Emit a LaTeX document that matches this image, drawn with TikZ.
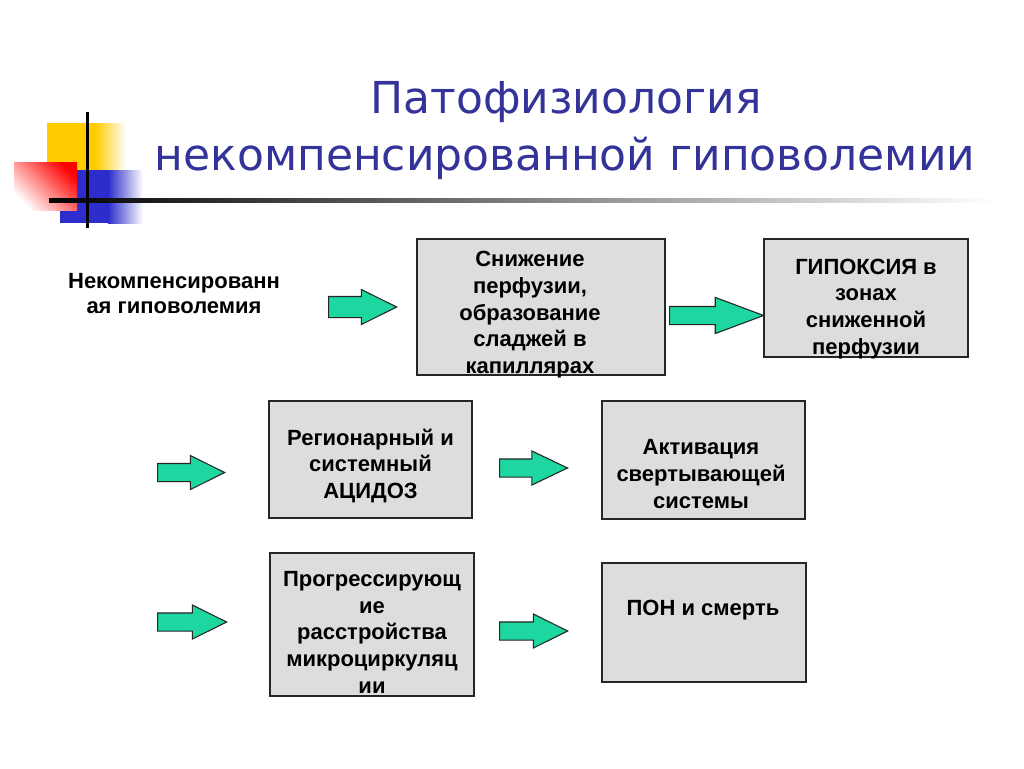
\documentclass[tikz,border=0pt]{standalone}
\usepackage{fontspec}
\setmainfont{Liberation Sans}
\newfontfamily\titlefont{DejaVu Sans}
\usetikzlibrary{shapes.arrows,calc}
\definecolor{titleblue}{RGB}{51,51,153}
\definecolor{boxgray}{RGB}{221,221,221}
\definecolor{mint}{RGB}{30,214,160}
\definecolor{logoY}{RGB}{255,204,0}
\definecolor{logoB}{RGB}{45,45,205}
\definecolor{logoR}{RGB}{255,0,0}
\tikzset{
  titletext/.style={font=\titlefont\fontsize{44}{50}\selectfont, text=titleblue, inner sep=0pt, anchor=base},
  box/.style={draw=black!85, line width=1.3pt, fill=boxgray, inner sep=0pt},
  lbl/.style={font=\fontsize{22}{26.8}\selectfont\bfseries, align=center, anchor=north, inner sep=0pt, execute at begin node={\rule{0pt}{18pt}}},
  blk/.style={single arrow, draw=black!85, line width=1.1pt, fill=mint, anchor=tail,
    inner xsep=0pt, inner ysep=8.5pt, minimum width=0pt, single arrow head extend=8pt,
    single arrow tip angle=53, single arrow head indent=0pt}
}
\begin{document}
\begin{tikzpicture}[x=1pt,y=-1pt]
\useasboundingbox (0,0) rectangle (1024,768);
\fill[white] (0,0) rectangle (1024,768);
% logo
\fill[logoY] (47,123) rectangle (95,172);
\shade[left color=logoY, right color=white] (95,123) rectangle (126,172);
\fill[logoB] (60,170) rectangle (108,223);
\shade[left color=logoB, right color=white] (108,170) rectangle (143,223);
\shade[top color=logoR, bottom color=white, shading angle=-45] (14,162) rectangle (77,210);
\shade[left color=black, right color=white] (49,198) rectangle (995,202);
\fill[black] (85.5,112) rectangle (88.8,228);
% title
\node[titletext] (title1) at (566,113) {Патофизиология};
\node[titletext] (title2) at (565,170) {некомпенсированной гиповолемии};
% boxes
\node[box, minimum width=248pt, minimum height=136pt] (b1) at (541,307) {};
\node[box, minimum width=204pt, minimum height=118pt] (b2) at (866,298) {};
\node[box, minimum width=203pt, minimum height=117pt] (b3) at (370.5,459.5) {};
\node[box, minimum width=203pt, minimum height=118pt] (b4) at (703.5,460) {};
\node[box, minimum width=204pt, minimum height=143pt] (b5) at (372,624.5) {};
\node[box, minimum width=204pt, minimum height=119pt] (b6) at (704,622.5) {};
% texts
\node[lbl, font=\fontsize{22}{25}\selectfont\bfseries] (t0) at (174,273) {Некомпенсированн\\ая гиповолемия};
\node[lbl] (t1) at (530,251) {Снижение\\перфузии,\\образование\\сладжей в\\капиллярах};
\node[lbl] (t2) at (866,258.5) {ГИПОКСИЯ в\\зонах\\сниженной\\перфузии};
\node[lbl] (t3) at (370.5,428.5) {Регионарный и\\системный\\АЦИДОЗ};
\node[lbl] (t4) at (701,439.5) {Активация\\свертывающей\\системы};
\node[lbl] (t5) at (372,571) {Прогрессирующ\\ие\\расстройства\\микроциркуляц\\ии};
\node[lbl] (t6) at (703,597) {ПОН и смерть};
% block arrows
\node[blk, inner ysep=10pt, single arrow head extend=7pt, minimum height=68pt] (a1) at (328,307) {};
\node[blk, single arrow head extend=9pt, single arrow tip angle=41, minimum height=94pt] (a2) at (669,315.5) {};
\node[blk, minimum height=67pt] (a3) at (157,472.5) {};
\node[blk, single arrow tip angle=51, minimum height=68pt] (a4) at (499,468) {};
\node[blk, minimum height=69pt] (a5) at (157,622) {};
\node[blk, minimum height=68pt] (a6) at (499,631) {};
\end{tikzpicture}
\end{document}
